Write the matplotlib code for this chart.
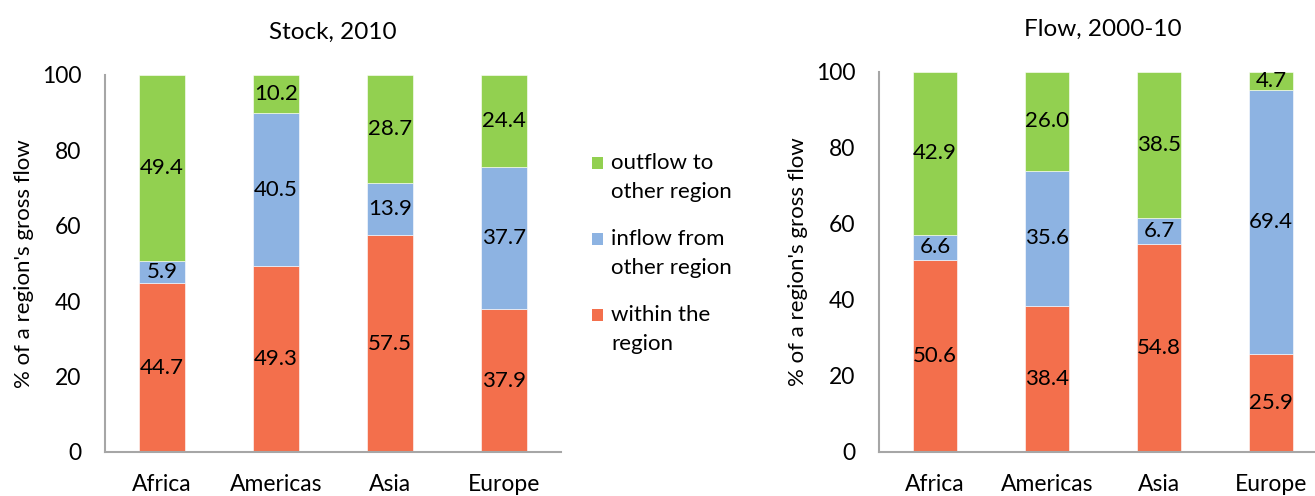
import matplotlib
matplotlib.use('Agg')
import matplotlib.pyplot as plt
from matplotlib.patches import Rectangle
import numpy as np

plt.rcParams['font.family'] = ['Lato', 'DejaVu Sans']

regions = ['Africa', 'Americas', 'Asia', 'Europe']
series_names = ['within the\nregion', 'inflow from\nother region', 'outflow to\nother region']
series_colors = ['#F36F4C', '#8DB3E2', '#92D050']

# Stock, 2010
stock_within = [44.7, 49.3, 57.5, 37.9]
stock_inflow = [5.9, 40.5, 13.9, 37.7]
stock_outflow = [49.4, 10.2, 28.7, 24.4]

# Flow, 2000-10
flow_within = [50.6, 38.4, 54.8, 25.9]
flow_inflow = [6.6, 35.6, 6.7, 69.4]
flow_outflow = [42.9, 26.0, 38.5, 4.7]

W, H = 1315, 496
fig = plt.figure(figsize=(W / 100, H / 100), dpi=100)

def stacked(ax, title, parts):
    x = np.arange(len(regions))
    bottom = np.zeros(len(regions))
    for vals, c in zip(parts, series_colors):
        bars = ax.bar(x, vals, 0.4, bottom=bottom, color=c, edgecolor='white', linewidth=0.4)
        ax.bar_label(bars, labels=['%.1f' % v for v in vals], label_type='center', fontsize=16, color='black')
        bottom = bottom + np.array(vals)
    ax.set_xlim(-0.5, 3.5)
    ax.set_ylim(0, 100)
    ax.set_yticks([0, 20, 40, 60, 80, 100])
    ax.set_xticks(x)
    ax.set_xticklabels(regions)
    ax.tick_params(axis='both', length=0, labelsize=16.5)
    ax.tick_params(axis='y', pad=17)
    ax.tick_params(axis='x', pad=16)
    for s in ['top', 'right']:
        ax.spines[s].set_visible(False)
    for s in ['left', 'bottom']:
        ax.spines[s].set_color('#A6A6A6')
        ax.spines[s].set_linewidth(1.5)
    ax.set_ylabel("% of a region's gross flow", fontsize=16, labelpad=6)
    ax.set_title(title, fontsize=17.5, pad=26)

ax1 = fig.add_axes([105 / W, 44 / H, 456 / W, 377 / H])
stacked(ax1, 'Stock, 2010', [stock_within, stock_inflow, stock_outflow])

ax2 = fig.add_axes([879 / W, 44 / H, 448 / W, 380 / H])
stacked(ax2, 'Flow, 2000-10', [flow_within, flow_inflow, flow_outflow])

# legend drawn by hand: square next to first line of each two-line label
item_y = [315, 239, 163]  # pixel rows (from top) of each label's first line
for name, c, yy in zip(series_names, series_colors, item_y):
    fig.patches.append(Rectangle((592 / W, 1 - (yy + 6) / H), 11 / W, 12 / H,
                                 transform=fig.transFigure, facecolor=c, edgecolor='none'))
    fig.text(611 / W, 1 - (yy + 14.5) / H, name, fontsize=16, va='center', ha='left', linespacing=1.55)

fig.savefig('out.png', dpi=100)
